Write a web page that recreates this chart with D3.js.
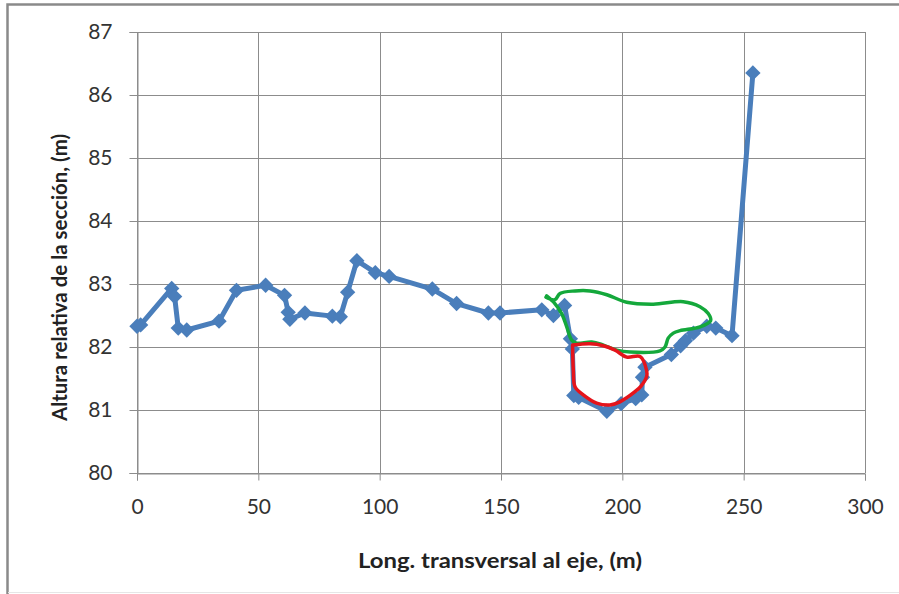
<!DOCTYPE html>
<html>
<head>
<meta charset="utf-8">
<script src="https://cdn.jsdelivr.net/npm/d3@7"></script>
<style>
  html, body { margin: 0; padding: 0; background: #fff; }
  svg { display: block; }
</style>
</head>
<body>
<svg id="chart" width="899" height="594"></svg>
<script>
// Cross-section survey: transverse distance (m) vs. relative height (m)
const distance = [0, 1.5, 14.3, 15.5, 17.0, 20.5, 33.8, 41.0, 53.0, 60.8, 62.3, 63.0, 69.2, 80.5, 83.8, 86.8, 90.6, 98.2, 103.9, 121.7, 131.7, 144.8, 149.6, 166.8, 171.6, 176.2, 178.6, 179.4, 180.0, 182.0, 193.6, 199.5, 205.5, 208.0, 208.3, 209.3, 220.2, 224.0, 226.0, 229.3, 234.8, 238.5, 245.2, 253.8];
const height = [82.33, 82.35, 82.93, 82.80, 82.30, 82.27, 82.41, 82.90, 82.98, 82.82, 82.55, 82.44, 82.54, 82.49, 82.48, 82.87, 83.37, 83.18, 83.12, 82.92, 82.69, 82.54, 82.54, 82.59, 82.50, 82.66, 82.13, 81.97, 81.23, 81.20, 80.98, 81.10, 81.18, 81.24, 81.52, 81.68, 81.88, 82.02, 82.10, 82.22, 82.33, 82.30, 82.18, 86.35];

// Hand-drawn outlines marking zones of the section
const greenX = [168.5, 172.2, 174.3, 180.5, 186.7, 193.6, 201.8, 212.8, 225.1, 232.0, 235.4, 236.4, 232.0, 223.8, 221.0, 218.9, 217.6, 215.5, 203.2, 197.7, 192.2, 187.4, 181.2, 179.1, 177.1, 175.0, 172.2, 168.8];
const greenY = [82.79, 82.75, 82.85, 82.89, 82.89, 82.83, 82.71, 82.68, 82.72, 82.64, 82.53, 82.42, 82.32, 82.26, 82.22, 82.14, 82.00, 81.94, 81.92, 81.95, 82.03, 82.08, 82.06, 82.11, 82.32, 82.53, 82.69, 82.81];
const redX = [179.8, 186.7, 192.2, 197.0, 201.8, 207.3, 210.0, 210.0, 207.7, 205.2, 199.0, 194.9, 189.4, 183.9, 180.5, 179.8, 179.5];
const redY = [82.03, 82.05, 82.02, 81.95, 81.84, 81.85, 81.63, 81.53, 81.38, 81.29, 81.13, 81.08, 81.11, 81.24, 81.37, 81.63, 82.03];

const xTicks = [0, 50, 100, 150, 200, 250, 300];
const yTicks = [80, 81, 82, 83, 84, 85, 86, 87];

const xTitle = "Long. transversal al eje, (m)";
const yTitle = "Altura relativa de la sección, (m)";

const svg = d3.select("#chart");
const W = 899, H = 594;
const plot = { left: 137, right: 865, top: 32, bottom: 473 };

const x = d3.scaleLinear().domain([0, 300]).range([plot.left, plot.right]);
const y = d3.scaleLinear().domain([80, 87]).range([plot.bottom, plot.top]);

const gridColor = "#8c8c8c";
const fontFam = "Lato, 'Open Sans', 'DejaVu Sans', sans-serif";

// outer frame (left and top edges)
svg.append("path")
  .attr("d", `M7.5,${H} L7.5,4.5 L${W},4.5`)
  .attr("fill", "none").attr("stroke", "#8a8a8a").attr("stroke-width", 2.5);
svg.append("line")
  .attr("x1", 8).attr("x2", W).attr("y1", H - 1.5).attr("y2", H - 1.5)
  .attr("stroke", "#e6e6e6").attr("stroke-width", 1);

// gridlines
const grid = svg.append("g");
grid.selectAll("line.h").data(yTicks).join("line")
  .attr("x1", plot.left).attr("x2", plot.right)
  .attr("y1", d => Math.round(y(d)) + 0.5).attr("y2", d => Math.round(y(d)) + 0.5)
  .attr("stroke", gridColor).attr("stroke-width", 1);
grid.selectAll("line.v").data(xTicks).join("line")
  .attr("y1", plot.top).attr("y2", plot.bottom)
  .attr("x1", d => Math.round(x(d)) + 0.5).attr("x2", d => Math.round(x(d)) + 0.5)
  .attr("stroke", gridColor).attr("stroke-width", 1);

// axes
const xAxis = d3.axisBottom(x).tickValues(xTicks).tickSize(7).tickPadding(19).tickFormat(d3.format("d"));
const yAxis = d3.axisLeft(y).tickValues(yTicks).tickSize(8).tickPadding(17).tickFormat(d3.format("d"));

const gx = svg.append("g").attr("transform", `translate(0,${Math.round(y(80)) + 0.5})`).call(xAxis);
const gy = svg.append("g").attr("transform", `translate(${Math.round(x(0)) + 0.5},0)`).call(yAxis);
[gx, gy].forEach(g => {
  g.select(".domain").attr("stroke", gridColor);
  g.selectAll(".tick line").attr("stroke", gridColor);
  g.selectAll(".tick text")
    .attr("fill", "#333").style("font-family", fontFam).style("font-size", "21px");
});

// axis titles
svg.append("text")
  .attr("x", 500).attr("y", 568)
  .attr("text-anchor", "middle")
  .attr("textLength", 284).attr("lengthAdjust", "spacingAndGlyphs")
  .style("font-family", fontFam).style("font-size", "21px").style("font-weight", "bold")
  .attr("fill", "#222").text(xTitle);
svg.append("text")
  .attr("transform", `translate(67,${(plot.top + plot.bottom) / 2 + 25}) rotate(-90)`)
  .attr("text-anchor", "middle")
  .attr("textLength", 287).attr("lengthAdjust", "spacingAndGlyphs")
  .style("font-family", fontFam).style("font-size", "20px").style("font-weight", "bold")
  .attr("fill", "#222").text(yTitle);

// survey series
const pts = distance.map((d, i) => [d, height[i]]);
const blue = "#4A7EBB";
svg.append("path")
  .attr("d", d3.line().x(d => x(d[0])).y(d => y(d[1]))(pts))
  .attr("fill", "none").attr("stroke", blue).attr("stroke-width", 5)
  .attr("stroke-linejoin", "round");
svg.append("g").selectAll("path").data(pts).join("path")
  .attr("transform", d => `translate(${x(d[0])},${y(d[1])})`)
  .attr("d", d3.symbol(d3.symbolDiamond2, 150)())
  .attr("fill", blue);

// zone outlines
const outline = d3.line().x(d => x(d[0])).y(d => y(d[1])).curve(d3.curveCatmullRom.alpha(0.5));
svg.append("path")
  .attr("d", outline(greenX.map((d, i) => [d, greenY[i]])))
  .attr("fill", "none").attr("stroke", "#14A83B").attr("stroke-width", 3.5)
  .attr("stroke-linejoin", "round").attr("stroke-linecap", "round");
svg.append("path")
  .attr("d", outline(redX.map((d, i) => [d, redY[i]])))
  .attr("fill", "none").attr("stroke", "#E5141B").attr("stroke-width", 3.5)
  .attr("stroke-linejoin", "round").attr("stroke-linecap", "round");
</script>
</body>
</html>
